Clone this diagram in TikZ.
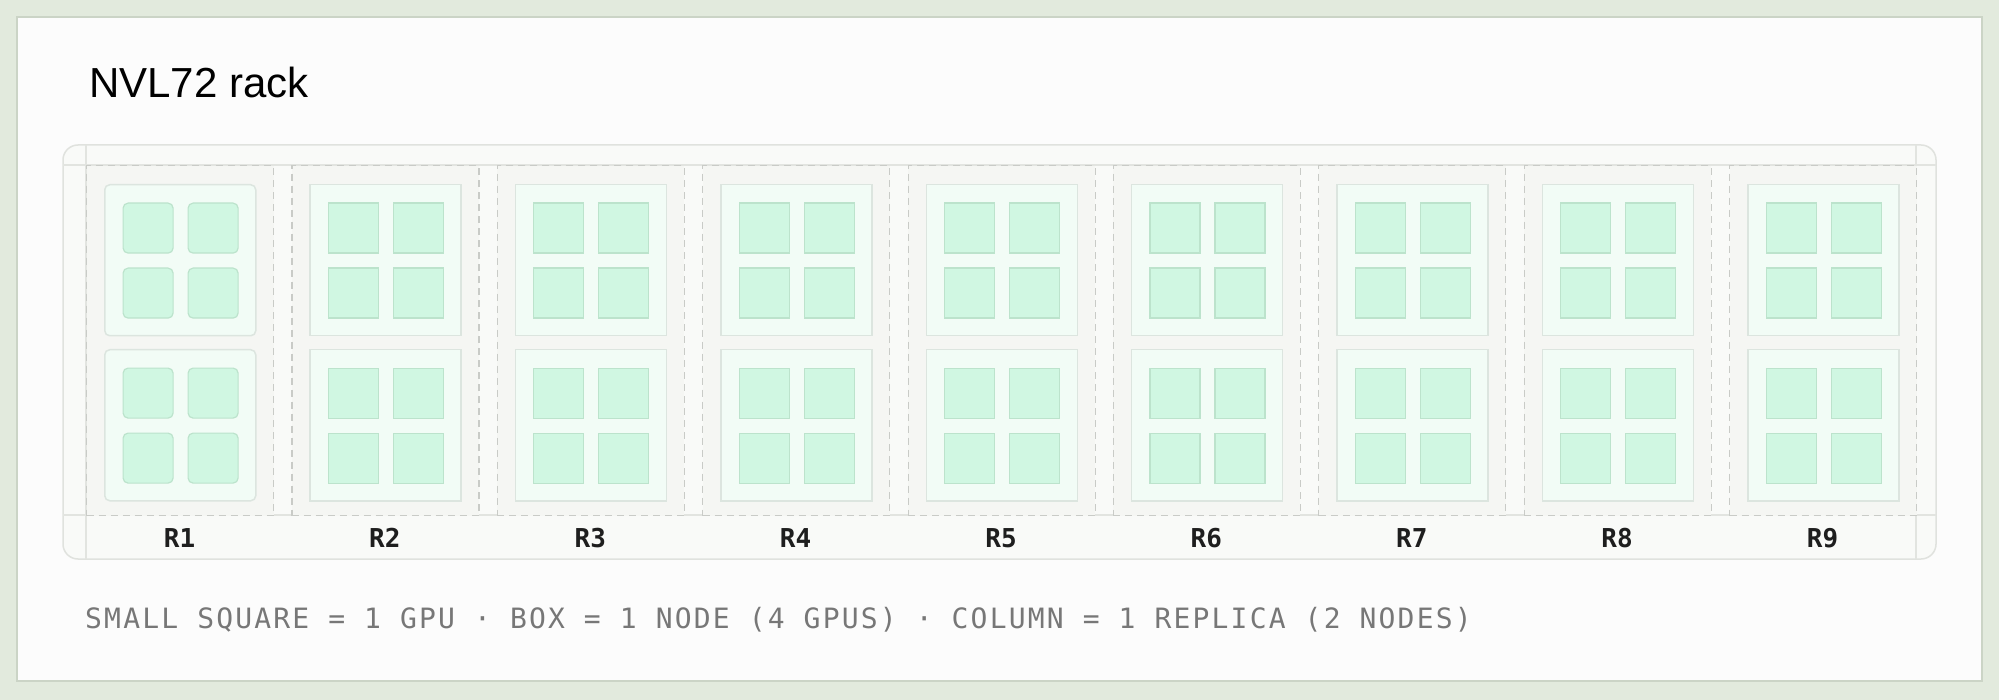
\documentclass[tikz,border=0pt]{standalone}
\usepackage{fontspec}
\setmainfont{Liberation Sans}
\newfontfamily\monofont{DejaVu Sans Mono}
\newfontfamily\keyfont[LetterSpace=7.8]{DejaVu Sans Mono}
\definecolor{sage}{HTML}{E2EADD}
\definecolor{cardline}{HTML}{CBD4C6}
\definecolor{cardfill}{HTML}{FCFCFC}
\definecolor{rackfill}{HTML}{F9FAF8}
\definecolor{rackline}{HTML}{E0E2DE}
\definecolor{guideline}{HTML}{E2E4E0}
\definecolor{colfill}{HTML}{F5F6F3}
\definecolor{dashgray}{HTML}{C9CBC7}
\definecolor{boxfill}{HTML}{F2FCF6}
\definecolor{boxline}{HTML}{DCE5DF}
\definecolor{gpufill}{HTML}{D0F7E2}
\definecolor{gpuline}{HTML}{BCE3CC}
\definecolor{tagtext}{HTML}{1E1E1E}
\definecolor{keytext}{HTML}{777777}
\begin{document}
\begin{tikzpicture}[x=1pt,y=-1pt,
    replica/.style={draw=dashgray,fill=colfill,line width=1.2pt,dash pattern=on 7pt off 5pt,
        minimum width=187pt,minimum height=350pt,inner sep=0pt,anchor=north west},
    nodebox/.style={draw=boxline,fill=boxfill,line width=1.5pt,
        minimum size=151pt,inner sep=0pt,anchor=north west},
    gpu/.style={draw=gpuline,fill=gpufill,line width=1.2pt,
        minimum size=50pt,inner sep=0pt,anchor=north west},
    guide/.style={draw=guideline,line width=1.2pt},
    tag/.style={font=\monofont\bfseries\fontsize{26}{26}\selectfont,text=tagtext,inner sep=0pt,anchor=base},
    legend/.style={font=\keyfont\fontsize{28}{28}\selectfont,text=keytext,inner sep=0pt,anchor=base west}]
    \useasboundingbox (0,0) rectangle (1999,700);
    \fill[sage] (0,0) rectangle (1999,700);
    \draw[cardline,fill=cardfill,line width=2pt] (17,17) rectangle (1982,681);
    \node[anchor=base west,inner sep=0pt,font=\fontsize{42}{42}\selectfont] (title) at (89,98) {NVL72 rack};
    % rack frame and guides
    \draw[rackline,fill=rackfill,line width=1.5pt,rounded corners=15pt] (63,145) rectangle (1936,559);
    \draw[guide] (63,165) -- (1936,165) (63,515) -- (1936,515)
        (86,145) -- (86,559) (1916,145) -- (1916,559);
    % replicas: 2 nodes of 4 gpus each
    \foreach \i/\rc in {1/5pt,2/0pt,3/0pt,4/0pt,5/0pt,6/0pt,7/0pt,8/0pt,9/0pt}{
        \pgfmathsetmacro\cx{86+(\i-1)*205.375}
        \node[replica] (rep\i) at (\cx,165) {};
        \node[tag] (lab\i) at (\cx+93.5,547) {R\i};
        \foreach \j/\by in {1/184,2/349}{
            \node[nodebox,rounded corners=\rc] (node\i-\j) at (\cx+18,\by) {};
            \foreach \k/\gx/\gy in {1/18.5/18.5,2/83.5/18.5,3/18.5/83.5,4/83.5/83.5}
                \node[gpu,rounded corners=\rc] (gpu\i-\j-\k) at (\cx+18+\gx,\by+\gy) {};
        }
    }
    \node[legend] (key) at (85,628) {SMALL SQUARE = 1 GPU · BOX = 1 NODE (4 GPUS) · COLUMN = 1 REPLICA (2 NODES)};
\end{tikzpicture}
\end{document}
